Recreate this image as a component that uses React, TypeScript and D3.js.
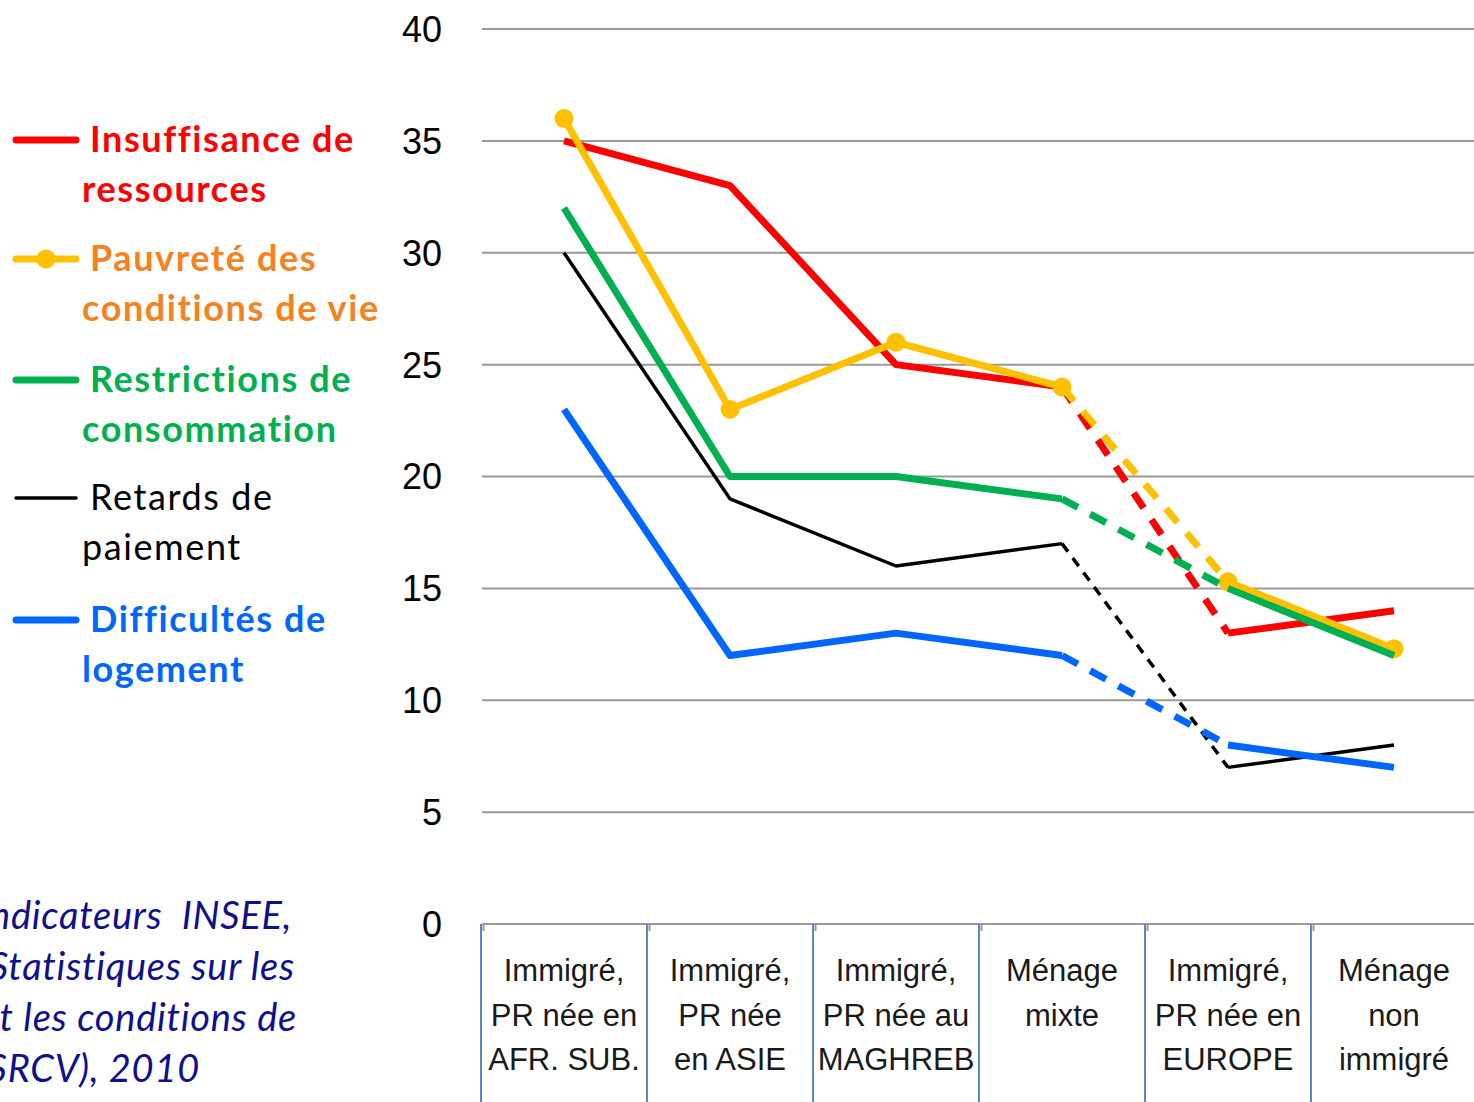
import React from "react";
import * as d3 from "d3";

const categories = [
  "AFR. SUB.",
  "ASIE",
  "MAGHREB",
  "Ménage mixte",
  "EUROPE",
  "Ménage non immigré",
];

const categoryLines = [
  ["Immigré,", "PR née en", "AFR. SUB."],
  ["Immigré,", "PR née", "en ASIE"],
  ["Immigré,", "PR née au", "MAGHREB"],
  ["Ménage", "mixte"],
  ["Immigré,", "PR née en", "EUROPE"],
  ["Ménage", "non", "immigré"],
];

const insuffisance = [35, 33, 25, 24, 13, 14];
const pauvrete = [36, 23, 26, 24, 15.3, 12.3];
const restrictions = [32, 20, 20, 19, 15, 12];
const retards = [30, 19, 16, 17, 7, 8];
const logement = [23, 12, 13, 12, 8, 7];

const seriesNames = [
  ["Insuffisance de", "ressources"],
  ["Pauvreté des", "conditions de vie"],
  ["Restrictions de", "consommation"],
  ["Retards de", "paiement"],
  ["Difficultés de", "logement"],
];

const yTicks = [0, 5, 10, 15, 20, 25, 30, 35, 40];

const sourceLines = [
  "Source : Indicateurs\u00A0\u00A0INSEE,",
  "Statistiques sur les",
  "ressources et les conditions de",
  "vie (SRCV), 2010",
];

// dashed segment between "Ménage mixte" (index 3) and "EUROPE" (index 4)
const dashedFrom = 3;

const series = [
  { values: insuffisance, color: "#FF0000", text: "#FF0000", width: 7, marker: false, bold: true, dash: "18 14" },
  { values: pauvrete, color: "#FFC000", text: "#F58220", width: 7, marker: true, bold: true, dash: "18 14" },
  { values: restrictions, color: "#00B050", text: "#00B050", width: 7, marker: false, bold: true, dash: "18 14" },
  { values: retards, color: "#000000", text: "#000000", width: 3.5, marker: false, bold: false, dash: "10 8" },
  { values: logement, color: "#0066FF", text: "#0066FF", width: 7, marker: false, bold: true, dash: "18 14" },
];

export default function App() {
  const W = 1474;
  const H = 1102;
  const x = d3.scaleBand<string>().domain(categories).range([481, 1477]).padding(0);
  const y = d3.scaleLinear().domain([0, 40]).range([924, 29]);
  const cx = (i: number) => (x(categories[i]) as number) + x.bandwidth() / 2;

  const line = d3
    .line<[number, number]>()
    .x((d) => cx(d[0]))
    .y((d) => y(d[1]))
    .curve(d3.curveLinear);

  const seg = (vals: number[], a: number, b: number) =>
    vals.slice(a, b + 1).map((v, k) => [a + k, v] as [number, number]);

  const legendY = [140, 259, 380, 498, 620];

  return (
    <svg
      width={W}
      height={H}
      style={{ position: "absolute", left: 0, top: 0, background: "#fff" }}
    >
      <rect width={W} height={H} fill="#fff" />
      {/* gridlines */}
      {yTicks.map((t) => (
        <line
          key={t}
          x1={482}
          x2={W}
          y1={y(t)}
          y2={y(t)}
          stroke="#999"
          strokeWidth={2}
        />
      ))}
      {/* y tick labels */}
      {yTicks.map((t) => (
        <text
          key={"l" + t}
          x={442}
          y={y(t)}
          dy="0.36em"
          textAnchor="end"
          fontFamily="'Liberation Sans', Arial, sans-serif"
          fontSize={36}
          fill="#000"
        >
          {t}
        </text>
      ))}
      {/* category cells */}
      {categories.map((c, i) => (
        <g key={c}>
          <line
            x1={(x(c) as number)}
            x2={(x(c) as number)}
            y1={y(0)}
            y2={H}
            stroke="#5B87C5"
            strokeWidth={2}
          />
          <line
            x1={(x(c) as number) + 2.5}
            x2={(x(c) as number) + 2.5}
            y1={y(0)}
            y2={y(0) + 7}
            stroke="#999"
            strokeWidth={2}
          />
          {categoryLines[i].map((t, k) => (
            <text
              key={k}
              x={cx(i)}
              y={981 + k * 44.5}
              textAnchor="middle"
              fontFamily="'Liberation Sans', Arial, sans-serif"
              fontSize={31}
              fill="#1a1a1a"
            >
              {t}
            </text>
          ))}
        </g>
      ))}
      {/* series lines */}
      {series.map((s, si) => (
        <g key={si} fill="none" stroke={s.color} strokeWidth={s.width} strokeLinejoin="round">
          <path d={line(seg(s.values, 0, dashedFrom)) as string} strokeLinecap="butt" />
          <path d={line(seg(s.values, dashedFrom, dashedFrom + 1)) as string} strokeDasharray={s.dash} />
          <path d={line(seg(s.values, dashedFrom + 1, s.values.length - 1)) as string} strokeLinecap="butt" />
          {s.marker &&
            s.values.map((v, i) => (
              <circle key={i} cx={cx(i)} cy={y(v)} r={9.5} fill={s.color} stroke="none" />
            ))}
        </g>
      ))}
      {/* legend */}
      {series.map((s, si) => (
        <g key={"lg" + si}>
          <line
            x1={16}
            x2={76}
            y1={legendY[si]}
            y2={legendY[si]}
            stroke={s.color}
            strokeWidth={s.width}
            strokeLinecap="round"
          />
          {s.marker && <circle cx={46} cy={legendY[si]} r={9.5} fill={s.color} />}
          {seriesNames[si].map((t, k) => (
            <text
              key={k}
              x={k === 0 ? 90 : 82}
              y={legendY[si] + 12 + k * 50}
              fontFamily="Lato, 'Open Sans', sans-serif"
              fontWeight={s.bold ? 700 : 400}
              fontSize={36}
              letterSpacing={1.6}
              fill={s.text}
            >
              {t}
            </text>
          ))}
        </g>
      ))}
      {/* source */}
      {sourceLines.map((t, k) => (
        <text
          key={"s" + k}
          x={[292, 295, 297, 200][k]}
          y={929 + k * 51}
          textAnchor="end"
          fontFamily="Lato, 'Open Sans', sans-serif"
          fontStyle="italic"
          fontSize={38}
          letterSpacing={0.75}
          fill="#10108C"
        >
          {t}
        </text>
      ))}
    </svg>
  );
}
